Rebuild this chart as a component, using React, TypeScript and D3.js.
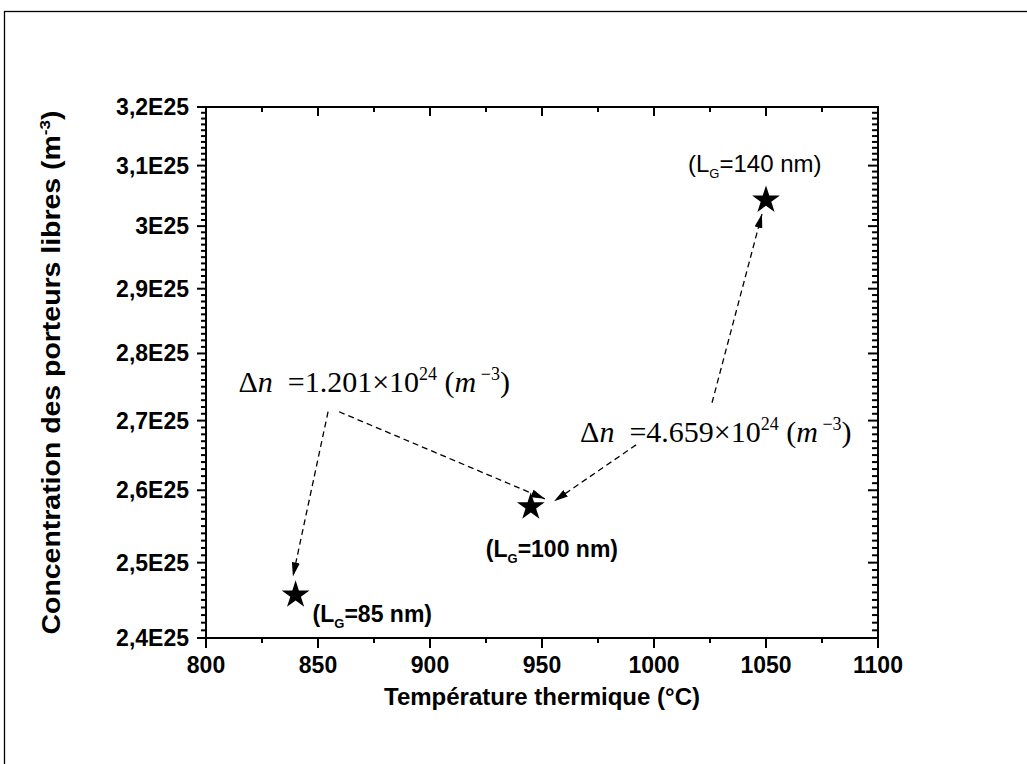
import React, { useRef, useEffect } from 'react';
import * as d3 from 'd3';

// measured points (temperature °C, free carrier concentration m^-3)
const temperatures = [840, 945, 1050];
const concentrations = [2.4566e25, 2.5767e25, 3.0426e25];
const gateLengths = ['85', '100', '140'];

const xTicks = [800, 850, 900, 950, 1000, 1050, 1100];
const yTicks = [2.4e25, 2.5e25, 2.6e25, 2.7e25, 2.8e25, 2.9e25, 3.0e25, 3.1e25, 3.2e25];
const yTickLabels = ['2,4E25', '2,5E25', '2,6E25', '2,7E25', '2,8E25', '2,9E25', '3E25', '3,1E25', '3,2E25'];

// dashed arrows, start/end in data units
const arrowStarts = [[854.5, 2.713e25], [859.4, 2.713e25], [992, 2.6647e25], [1025.9, 2.7262e25]];
const arrowEnds = [[838.8, 2.4814e25], [951.3, 2.5879e25], [955.4, 2.5846e25], [1048.2, 3.0198e25]];

const deltaLabels = ['1.201', '4.659'];
const deltaAnchors = [[814.5, 2.7423e25], [967, 2.6691e25]];

const W = 1027;
const H = 764;
const sans = 'Liberation Sans, Arial, sans-serif';
const serif = 'Liberation Serif, Times New Roman, serif';

const App = () => {
  const ref = useRef(null);

  useEffect(() => {
    const svg = d3.select(ref.current);
    svg.selectAll('*').remove();

    const x = d3.scaleLinear().domain([800, 1100]).range([206, 878]);
    const y = d3.scaleLog().domain([2.4e25, 3.2e25]).range([638, 107]);
    const [x0, x1] = x.range();
    const [y0, y1] = y.range();

    svg.append('defs').append('marker')
      .attr('id', 'head')
      .attr('viewBox', '0 0 14 8')
      .attr('refX', 14).attr('refY', 4)
      .attr('markerWidth', 14).attr('markerHeight', 8)
      .attr('markerUnits', 'userSpaceOnUse')
      .attr('orient', 'auto')
      .append('path').attr('d', 'M0,0 L14,4 L0,8 Z').attr('fill', '#000');

    // outer frame
    svg.append('rect')
      .attr('x', 4.5).attr('y', 11.5).attr('width', 1100).attr('height', 900)
      .attr('fill', 'none').attr('stroke', '#000').attr('stroke-width', 1.3);

    const g = svg.append('g').attr('stroke', '#000').attr('stroke-width', 2);

    // x minor / major ticks, bottom (out) and top (in)
    const xMinor = d3.range(825, 1100, 50);
    xTicks.forEach(t => {
      g.append('line').attr('x1', x(t)).attr('x2', x(t)).attr('y1', y0).attr('y2', y0 + 10);
      g.append('line').attr('x1', x(t)).attr('x2', x(t)).attr('y1', y1).attr('y2', y1 + 9);
    });
    xMinor.forEach(t => {
      g.append('line').attr('x1', x(t)).attr('x2', x(t)).attr('y1', y0).attr('y2', y0 + 5);
      g.append('line').attr('x1', x(t)).attr('x2', x(t)).attr('y1', y1).attr('y2', y1 + 5);
    });

    // y minor / major ticks, left (out) and right (in)
    const yMinor = d3.range(241, 320).filter(i => i % 10 !== 0).map(i => i * 1e23);
    yTicks.forEach(t => {
      g.append('line').attr('x1', x0 - 9).attr('x2', x0).attr('y1', y(t)).attr('y2', y(t));
      g.append('line').attr('x1', x1 - 10).attr('x2', x1).attr('y1', y(t)).attr('y2', y(t));
    });
    yMinor.forEach(t => {
      g.append('line').attr('x1', x0 - 5).attr('x2', x0).attr('y1', y(t)).attr('y2', y(t));
      g.append('line').attr('x1', x1 - 6).attr('x2', x1).attr('y1', y(t)).attr('y2', y(t));
    });

    g.append('rect')
      .attr('x', x0).attr('y', y1).attr('width', x1 - x0).attr('height', y0 - y1)
      .attr('fill', 'none');

    // tick labels
    svg.append('g').selectAll('text').data(xTicks).enter().append('text')
      .attr('x', d => x(d)).attr('y', y0 + 35)
      .attr('text-anchor', 'middle')
      .attr('font-family', sans).attr('font-weight', 'bold').attr('font-size', 23)
      .text(d => d);

    svg.append('g').selectAll('text').data(yTicks).enter().append('text')
      .attr('x', x0 - 17).attr('y', d => y(d) + 8)
      .attr('text-anchor', 'end')
      .attr('font-family', sans).attr('font-weight', 'bold').attr('font-size', 23)
      .text((d, i) => yTickLabels[i]);

    // axis titles
    svg.append('text')
      .attr('x', (x0 + x1) / 2).attr('y', 705)
      .attr('text-anchor', 'middle')
      .attr('font-family', sans).attr('font-weight', 'bold').attr('font-size', 23)
      .attr('textLength', 316).attr('lengthAdjust', 'spacingAndGlyphs')
      .text('Température thermique (°C)');

    const yt = svg.append('text')
      .attr('transform', `translate(60,${(y0 + y1) / 2}) rotate(-90)`)
      .attr('text-anchor', 'middle')
      .attr('font-family', sans).attr('font-weight', 'bold').attr('font-size', 25)
      .attr('textLength', 524).attr('lengthAdjust', 'spacingAndGlyphs');
    yt.append('tspan').text('Concentration des porteurs libres (m');
    yt.append('tspan').attr('dy', -10).attr('font-size', 15).text('-3');
    yt.append('tspan').attr('dy', 10).text(')');

    // dashed arrows
    svg.append('g').selectAll('line').data(arrowStarts).enter().append('line')
      .attr('x1', d => x(d[0])).attr('y1', d => y(d[1]))
      .attr('x2', (d, i) => x(arrowEnds[i][0])).attr('y2', (d, i) => y(arrowEnds[i][1]))
      .attr('stroke', '#000').attr('stroke-width', 1.3)
      .attr('stroke-dasharray', '6,4')
      .attr('marker-end', 'url(#head)');

    // stars
    const star = d3.symbol().type(d3.symbolStar).size(240);
    svg.append('g').selectAll('path').data(temperatures).enter().append('path')
      .attr('d', star)
      .attr('transform', (d, i) => `translate(${x(d)},${y(concentrations[i])})`)
      .attr('fill', '#000');

    // gate length labels
    const labelOffsets = [[17, 27], [-45, 50], [-78, -28]];
    temperatures.forEach((t, i) => {
      const lt = svg.append('text')
        .attr('x', x(t) + labelOffsets[i][0]).attr('y', y(concentrations[i]) + labelOffsets[i][1])
        .attr('font-family', sans).attr('font-size', i < 2 ? 23 : 24)
        .attr('font-weight', i < 2 ? 'bold' : 'normal');
      lt.append('tspan').text('(L');
      lt.append('tspan').attr('dy', 6).attr('font-size', 13).text('G');
      lt.append('tspan').attr('dy', -6).text(`=${gateLengths[i]} nm)`);
    });

    // delta n annotations
    deltaLabels.forEach((v, i) => {
      const dt = svg.append('text')
        .attr('x', x(deltaAnchors[i][0])).attr('y', y(deltaAnchors[i][1]))
        .attr('font-family', serif).attr('font-size', 30)
        .style('white-space', 'pre');
      dt.append('tspan').text('Δ');
      dt.append('tspan').attr('font-style', 'italic').text('n');
      dt.append('tspan').text(`  =${v}×10`);
      dt.append('tspan').attr('dy', -12).attr('font-size', 18).text('24');
      dt.append('tspan').attr('dy', 12).text(' (');
      dt.append('tspan').attr('font-style', 'italic').text('m');
      dt.append('tspan').attr('dy', -12).attr('font-size', 18).text(' −3');
      dt.append('tspan').attr('dy', 12).text(')');
    });
  }, []);

  return (
    <svg
      ref={ref}
      width={W}
      height={H}
      style={{ position: 'absolute', left: 0, top: 0, background: '#fff' }}
    />
  );
};

export default App;
